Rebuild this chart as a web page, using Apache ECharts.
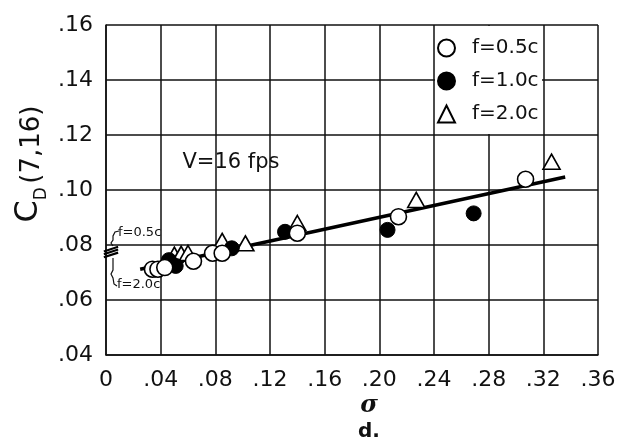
<!DOCTYPE html>
<html><head><meta charset="utf-8">
<script src="https://cdn.jsdelivr.net/npm/echarts@6/dist/echarts.min.js"></script>
<style>html,body{margin:0;padding:0;background:#fff}#c{width:619px;height:444px}</style>
</head><body><div id="c"></div>
<script>
var xTickLabels = ['0','.04','.08','.12','.16','.20','.24','.28','.32','.36'];
var yTickLabels = ['.04','.06','.08','.10','.12','.14','.16'];
var seriesNames = ['f=0.5c','f=1.0c','f=2.0c'];
var openPts = [[0.034,0.0712],[0.038,0.0712],[0.043,0.0718],[0.064,0.0741],[0.078,0.0770],[0.085,0.0770],[0.140,0.0843],[0.214,0.0903],[0.307,0.1039]];
var filledPts = [[0.046,0.0745],[0.051,0.0724],[0.092,0.0788],[0.131,0.0848],[0.206,0.0855],[0.269,0.0915]];
var triPts = [[0.050,0.0765],[0.055,0.0768],[0.060,0.0771],[0.085,0.0815],[0.102,0.0806],[0.140,0.0880],[0.227,0.0964],[0.326,0.1103]];
var fitLine = [[0.025,0.0712],[0.336,0.1047]];
var zeroMarks = [[0,0.0785],[0,0.0775],[0,0.0764]];

var FONT = 'DejaVu Sans';
var chart = echarts.init(document.getElementById('c'), null, {renderer:'canvas'});
chart.setOption({
  animation:false,
  backgroundColor:'#fff',
  grid:{left:106,right:21,top:25,bottom:89},
  xAxis:{type:'value',min:0,max:0.36,interval:0.04,z:0,
    axisLine:{show:true,lineStyle:{color:'#111',width:1.5}},
    axisTick:{show:false},
    splitLine:{show:true,lineStyle:{color:'#111',width:1.5}},
    axisLabel:{margin:14,color:'#111',fontFamily:FONT,fontSize:22,
      formatter:function(v,i){return xTickLabels[Math.round(v/0.04)];}}
  },
  yAxis:{type:'value',min:0.04,max:0.16,interval:0.02,z:0,
    axisLine:{show:true,lineStyle:{color:'#111',width:1.5}},
    axisTick:{show:false},
    splitLine:{show:true,lineStyle:{color:'#111',width:1.5}},
    axisLabel:{margin:13,color:'#111',fontFamily:FONT,fontSize:22,
      formatter:function(v){return yTickLabels[Math.round((v-0.04)/0.02)];}}
  },
  legend:{orient:'vertical',left:433,top:32,
    data:seriesNames,
    padding:[6,2,6,4],itemGap:13,
    itemWidth:17,itemHeight:17,
    textStyle:{fontFamily:FONT,fontSize:20,color:'#111',padding:[0,0,0,12]},
    z:10},
  series:[
    {type:'line',data:fitLine,symbol:'none',silent:true,
     lineStyle:{color:'#000',width:3.5},z:2},
    {type:'scatter',name:'zero',data:zeroMarks,symbol:'rect',symbolSize:[15,2.2],symbolRotate:18,
     symbolOffset:[5,0],itemStyle:{color:'#000',opacity:1},z:3},
    {type:'scatter',name:seriesNames[2],data:triPts,symbol:'triangle',symbolSize:[17,15],
     itemStyle:{color:'#fff',borderColor:'#000',borderWidth:1.6,opacity:1},z:3},
    {type:'scatter',name:seriesNames[1],data:filledPts,symbol:'circle',symbolSize:15,
     itemStyle:{color:'#000',borderColor:'#000',borderWidth:1,opacity:1},z:4},
    {type:'scatter',name:seriesNames[0],data:openPts,symbol:'circle',symbolSize:16,
     itemStyle:{color:'#fff',borderColor:'#000',borderWidth:1.6,opacity:1},z:5}
  ],
  graphic:[
    {type:'rect',z:1,shape:{x:435,y:26,width:107,height:108},style:{fill:'#fff'}},
    {type:'text',x:29,y:164,rotation:Math.PI/2,z:20,
     style:{text:'{c|C}{d|D} {p|(7,16)}',align:'center',verticalAlign:'middle',
       rich:{c:{fontFamily:FONT,fontSize:32,fill:'#111',verticalAlign:'bottom'},
             d:{fontFamily:FONT,fontSize:17,fill:'#111',verticalAlign:'bottom',padding:[0,0,-5,0]},
             p:{fontFamily:FONT,fontSize:26,fill:'#111',verticalAlign:'bottom'}}}},
    {type:'text',x:231,y:163,z:20,style:{text:'V=16 fps',fontFamily:FONT,fontSize:21,fill:'#111',align:'center',verticalAlign:'middle'}},
    {type:'text',x:369,y:406,z:20,style:{text:'σ',fontFamily:'DejaVu Serif',fontStyle:'italic',fontWeight:'bold',fontSize:24,fill:'#111',align:'center',verticalAlign:'middle'}},
    {type:'text',x:369,y:432,z:20,style:{text:'d.',fontFamily:FONT,fontWeight:'bold',fontSize:20,fill:'#111',align:'center',verticalAlign:'middle'}},
    {type:'text',x:118,y:233,z:20,style:{text:'f=0.5c',fontFamily:FONT,fontSize:13,fill:'#111',align:'left',verticalAlign:'middle'}},
    {type:'text',x:117,y:285,z:20,style:{text:'f=2.0c',fontFamily:FONT,fontSize:13,fill:'#111',align:'left',verticalAlign:'middle'}},
    {type:'polyline',z:20,shape:{points:[[119,231],[115,232],[113,236],[113,240],[111,243],[113,246]]},style:{stroke:'#111',lineWidth:1.2,fill:null}},
    {type:'polyline',z:20,shape:{points:[[113,258],[113,270],[111,274],[113,278],[114,284],[117,286]]},style:{stroke:'#111',lineWidth:1.2,fill:null}}
  ]
});
</script></body></html>
